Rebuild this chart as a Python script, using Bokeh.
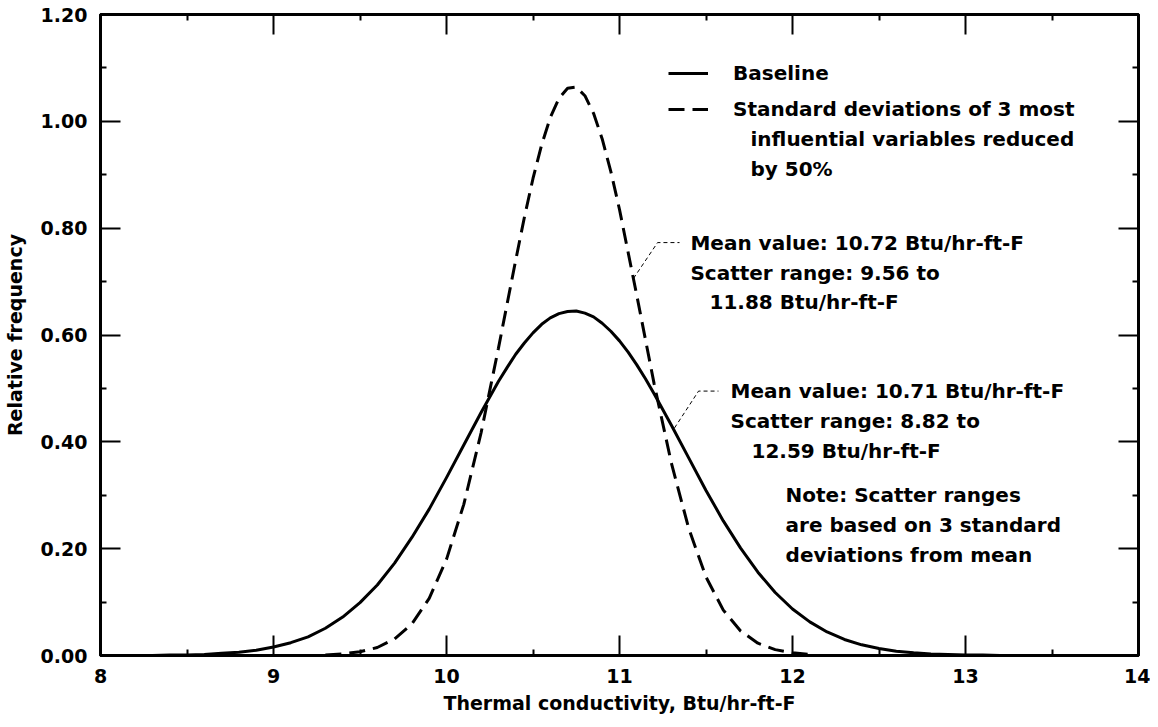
from bokeh.plotting import figure
from bokeh.models import (LinearAxis, Label, Legend, LegendItem, Range1d,
                          NumeralTickFormatter, FixedTicker)
from bokeh.embed import file_html
from bokeh.resources import INLINE

# ---- data ----
baseline_x = [8.2, 8.3, 8.4, 8.5, 8.6, 8.7, 8.8, 8.9, 9.0, 9.1, 9.2, 9.3, 9.4,
              9.5, 9.6, 9.7, 9.8, 9.9, 10.0, 10.1, 10.2, 10.3, 10.35, 10.4,
              10.45, 10.5, 10.55, 10.6, 10.65, 10.7, 10.75, 10.8, 10.85, 10.9,
              10.95, 11.0, 11.05, 11.1, 11.15, 11.2, 11.3, 11.4, 11.5,
              11.6, 11.7, 11.8, 11.9, 12.0, 12.1, 12.2, 12.3, 12.4, 12.5,
              12.6, 12.7, 12.8, 12.9, 13.0, 13.1, 13.2]
baseline_y = [0.000, 0.000, 0.001, 0.001, 0.002, 0.004, 0.006, 0.010, 0.016,
              0.024, 0.035, 0.051, 0.072, 0.099, 0.132, 0.173, 0.221, 0.274,
              0.333, 0.394, 0.455, 0.513, 0.539, 0.564, 0.585, 0.604, 0.620,
              0.632, 0.640, 0.644, 0.645, 0.641, 0.634, 0.622, 0.607, 0.589,
              0.568, 0.544, 0.518, 0.490, 0.431, 0.370, 0.309, 0.252, 0.201,
              0.156, 0.118, 0.087, 0.063, 0.044, 0.030, 0.020, 0.013, 0.008,
              0.005, 0.003, 0.002, 0.001, 0.001, 0.000]

reduced_x = [9.3, 9.4, 9.5, 9.6, 9.7, 9.8, 9.9, 10.0, 10.1, 10.2, 10.3, 10.4,
             10.45, 10.5, 10.55, 10.6, 10.65, 10.7, 10.75, 10.8, 10.85, 10.9,
             10.95, 11.0, 11.1, 11.2, 11.3, 11.4, 11.5, 11.6, 11.7, 11.8,
             11.9, 12.0, 12.1]
reduced_y = [0.001, 0.003, 0.007, 0.015, 0.031, 0.059, 0.107, 0.180, 0.283,
             0.417, 0.575, 0.740, 0.820, 0.893, 0.956, 1.007, 1.043, 1.062,
             1.064, 1.048, 1.015, 0.967, 0.906, 0.835, 0.674, 0.509, 0.360,
             0.238, 0.147, 0.085, 0.046, 0.023, 0.011, 0.005, 0.002]

x_ticks = [8, 9, 10, 11, 12, 13, 14]
y_ticks = [0.0, 0.2, 0.4, 0.6, 0.8, 1.0, 1.2]
x_minor = [t + 0.5 for t in x_ticks[:-1]]
y_minor = [round(t + 0.1, 2) for t in y_ticks[:-1]]

series_labels = ["Baseline", "Standard deviations of 3 most"]
legend_extra = ["influential variables reduced", "by 50%"]
note_reduced = ["Mean value: 10.72 Btu/hr-ft-F", "Scatter range: 9.56 to",
                "11.88 Btu/hr-ft-F"]
note_base = ["Mean value: 10.71 Btu/hr-ft-F", "Scatter range: 8.82 to",
             "12.59 Btu/hr-ft-F"]
note_text = ["Note: Scatter ranges", "are based on 3 standard",
             "deviations from mean"]

FONT = "DejaVu Sans"

p = figure(frame_width=1038, frame_height=641,
           x_range=Range1d(8, 14), y_range=Range1d(0, 1.2),
           output_backend="svg", toolbar_location=None,
           min_border_left=92, min_border_top=0, min_border_right=12,
           min_border_bottom=60)
p.grid.visible = False
p.outline_line_color = "black"
p.outline_line_width = 3
p.background_fill_color = "white"
p.border_fill_color = "white"

bottom = p.below[0]
left = p.left[0]

xt = FixedTicker(ticks=x_ticks, minor_ticks=x_minor)
yt = FixedTicker(ticks=y_ticks, minor_ticks=y_minor)

top = LinearAxis(ticker=xt)
right = LinearAxis(ticker=yt)
p.add_layout(top, "above")
p.add_layout(right, "right")

# invisible axis that only reserves room above the frame
pad_top = LinearAxis(ticker=xt, axis_line_color=None,
                     major_tick_line_color=None, minor_tick_line_color=None,
                     major_tick_in=0, major_tick_out=14,
                     minor_tick_in=0, minor_tick_out=0,
                     major_label_standoff=0, axis_label=None,
                     major_label_overrides={t: "" for t in x_ticks})
p.add_layout(pad_top, "above")

bottom.ticker = xt
left.ticker = yt

for ax in [bottom, left, top, right]:
    ax.axis_line_width = 3
    ax.axis_line_color = "black"
    ax.major_tick_in = 20
    ax.major_tick_out = 0
    ax.minor_tick_in = 6
    ax.minor_tick_out = 0
    ax.major_tick_line_width = 2
    ax.minor_tick_line_width = 2
    ax.major_tick_line_color = "black"
    ax.minor_tick_line_color = "black"
    ax.major_label_text_font = FONT
    ax.major_label_text_font_style = "bold"
    ax.major_label_text_color = "black"
    ax.major_label_text_font_size = "19px"
    ax.axis_label_text_font = FONT
    ax.axis_label_text_font_style = "bold"
    ax.axis_label_text_font_size = "19px"
    ax.axis_label_text_color = "black"

top.major_label_overrides = {t: "" for t in x_ticks}
right.major_label_overrides = {t: "" for t in y_ticks}
top.major_label_standoff = 0
right.major_label_standoff = 12
top.axis_label = None
right.axis_label = None

left.formatter = NumeralTickFormatter(format="0.00")
bottom.axis_label = "Thermal conductivity, Btu/hr-ft-F"
left.axis_label = "Relative frequency"
bottom.major_label_standoff = 13
bottom.axis_label_standoff = 6
left.major_label_standoff = 13
left.axis_label_standoff = 12

r1 = p.line(baseline_x, baseline_y, line_width=3, line_color="black",
            line_join="round")
r2 = p.line(reduced_x, reduced_y, line_width=3, line_color="black",
            line_dash="16 8")

legend = Legend(items=[LegendItem(label=series_labels[0], renderers=[r1]),
                       LegendItem(label=series_labels[1], renderers=[r2])],
                location=(568, 534), glyph_width=40, glyph_height=20,
                label_height=20, spacing=12, padding=0, margin=0,
                border_line_color=None, background_fill_alpha=0,
                label_text_font=FONT, label_text_font_size="20px",
                label_text_font_style="bold",
                label_text_color="black",
                label_standoff=25, label_text_baseline="middle")
p.add_layout(legend)


def add_lines(lines, x, y0, dy, indent=None):
    for i, t in enumerate(lines):
        xx = x
        if indent is not None and i in indent:
            xx = indent[i]
        p.add_layout(Label(x=xx, y=y0 - i * dy, text=t, text_font=FONT,
                           text_font_size="20px", text_font_style="bold",
                           text_baseline="middle",
                           text_align="left", text_color="black"))


# legend continuation lines
add_lines(legend_extra, 11.757, 0.966, 0.056)
# annotation for reduced curve
add_lines(note_reduced, 11.410, 0.773, 0.056, indent={2: 11.520})
# annotation for baseline curve
add_lines(note_base, 11.642, 0.495, 0.056, indent={2: 11.763})
# note
add_lines(note_text, 11.960, 0.301, 0.056)

# leader lines
p.line([11.081, 11.220, 11.347], [0.706, 0.773, 0.773], line_width=1,
       line_color="black", line_dash="4 3")
p.line([11.318, 11.457, 11.572], [0.426, 0.495, 0.495], line_width=1,
       line_color="black", line_dash="4 3")

open("out.html", "w").write(file_html(p, INLINE))
